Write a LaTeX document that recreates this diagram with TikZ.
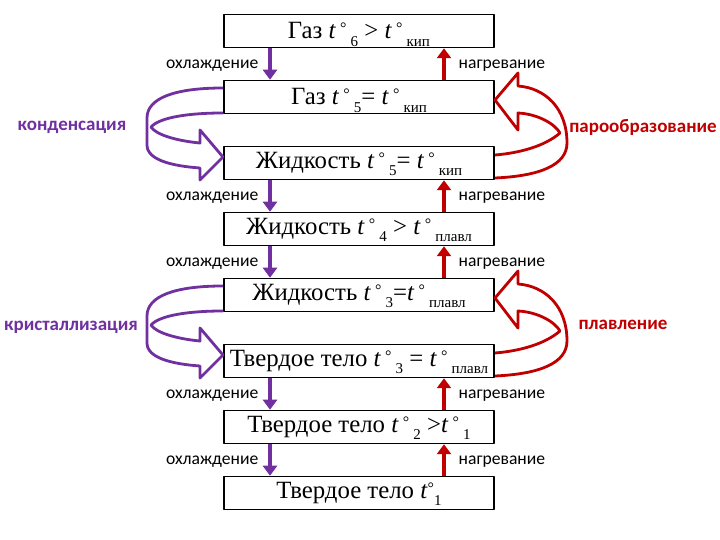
\documentclass[tikz,border=0pt]{standalone}
\usepackage{fontspec}
\setmainfont{Liberation Serif}
\newfontfamily\labelfont{Carlito}
\usetikzlibrary{arrows.meta}

\definecolor{coolviolet}{HTML}{7030A0}
\definecolor{heatred}{HTML}{C00000}

\newcommand{\dgr}{\raisebox{2.6pt}{\fontsize{8}{8}\selectfont °}}
\newcommand{\tdg}{\textit{t}\,\dgr\,}
\newcommand{\lowsub}[1]{\smash{\raisebox{-3.6pt}{\fontsize{7.5}{8}\selectfont #1}}}

\begin{document}
\begin{tikzpicture}[x=0.5pt,y=-0.5pt,line join=round,
  state/.style={draw,line width=0.75pt,minimum width=135pt,minimum height=16.5pt,
    inner sep=0pt,font=\fontsize{12.4}{13}\selectfont},
  coolarrow/.style={coolviolet,line width=2pt,-{Triangle[width=7pt,length=5pt]}},
  heatarrow/.style={heatred,line width=2pt,-{Triangle[width=7pt,length=5pt]}},
  coollabel/.style={left,xshift=-1.5pt,yshift=-1pt,font=\labelfont\fontsize{8.8}{9}\selectfont},
  heatlabel/.style={right,xshift=3pt,yshift=-1pt,font=\labelfont\fontsize{8.8}{9}\selectfont},
  coolblock/.style={draw=coolviolet,line width=1.4pt},
  heatblock/.style={draw=heatred,line width=1.4pt},
  phase/.style={font=\labelfont\bfseries\fontsize{9.5}{10}\selectfont}]
  \useasboundingbox (0,0) rectangle (720,540);

  % states, top to bottom
  \node[state] (gas6) at (359,31) {Газ \tdg\lowsub{6} > \tdg\lowsub{кип}};
  \node[state] (gas5) at (359,97) {Газ \tdg\lowsub{5}= \tdg\lowsub{кип}};
  \node[state] (liq5) at (359,163) {Жидкость \tdg\lowsub{5}= \tdg\lowsub{кип}};
  \node[state] (liq4) at (359,229) {Жидкость \tdg\lowsub{4} > \tdg\lowsub{плавл}};
  \node[state] (liq3) at (359,295) {Жидкость \tdg\lowsub{3}=\tdg\lowsub{плавл}};
  \node[state] (sol3) at (359,361) {Твердое тело \tdg\lowsub{3} = \tdg\lowsub{плавл}};
  \node[state] (sol2) at (359,427) {Твердое тело \tdg\lowsub{2} >\tdg\lowsub{1}};
  \node[state] (sol1) at (359,493) {Твердое тело \textit{t}\dgr\lowsub{1}};

  % cooling and heating
  \foreach \upper/\lower in {gas6/gas5,liq5/liq4,liq4/liq3,sol3/sol2,sol2/sol1} {
    \draw[coolarrow] ([xshift=-44.5pt]\upper.south) -- node[coollabel,black] {охлаждение} ([xshift=-44.5pt]\lower.north);
    \draw[heatarrow] ([xshift=42.5pt]\lower.north) -- node[heatlabel,black] {нагревание} ([xshift=42.5pt]\upper.south);
  }

  % phase transitions
  \foreach \dy in {0,198} {
    \begin{scope}[shift={(0,\dy)}]
      \draw[coolblock] (223,88) .. controls (175,88) and (147,98) .. (147,118) -- (147,145)
        .. controls (147,160) and (172,166) .. (200,168) -- (200,180) -- (223,157) -- (200,130) -- (200,143)
        .. controls (178,141) and (156,135) .. (151,127) .. controls (160,117) and (190,113) .. (223,113);
      \draw[heatblock] (495,178) .. controls (540,176) and (567,165) .. (567,143)
        .. controls (567,108) and (545,88) .. (518,86) -- (518,73) -- (495,100) -- (518,130) -- (518,113)
        .. controls (538,114) and (555,124) .. (560,133) .. controls (545,146) and (520,153) .. (495,155);
    \end{scope}
  }

  \node[phase,coolviolet] (condense) at (72,127) {конденсация};
  \node[phase,heatred] (vapour) at (643,127) {парообразование};
  \node[phase,coolviolet] (crystal) at (71,327) {кристаллизация};
  \node[phase,heatred] (melt) at (623,325) {плавление};
\end{tikzpicture}
\end{document}
